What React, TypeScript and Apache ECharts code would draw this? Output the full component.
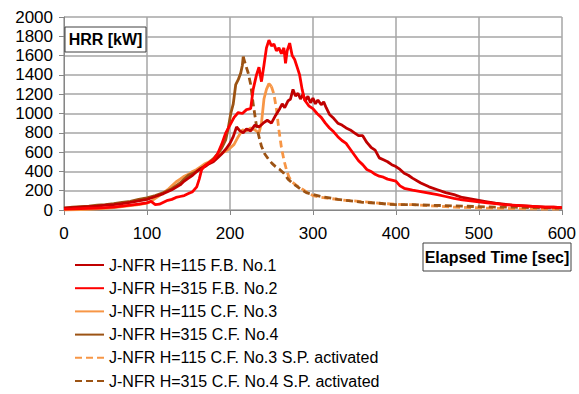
import React, { useEffect, useRef } from "react";
import * as echarts from "echarts";

const seriesNames = [
  "J-NFR H=115 F.B. No.1",
  "J-NFR H=315 F.B. No.2",
  "J-NFR H=115 C.F. No.3",
  "J-NFR H=315 C.F. No.4",
  "J-NFR H=115 C.F. No.3 S.P. activated",
  "J-NFR H=315 C.F. No.4 S.P. activated",
];

const fb1: number[][] = [
  [0, 20], [10, 25], [20, 30], [30, 35], [40, 40], [50, 50], [60, 55], [70, 65], [80, 80], [90, 95],
  [100, 110], [110, 140], [120, 170], [130, 210], [140, 260], [145, 300], [150, 330], [155, 360], [160, 400],
  [165, 430], [170, 450], [175, 480], [180, 500], [185, 540], [190, 580], [195, 630], [200, 690], [204, 760],
  [208, 860], [212, 820], [216, 800], [220, 840], [225, 820], [230, 880], [235, 860], [240, 900], [245, 930],
  [250, 900], [255, 980], [260, 1050], [263, 1100], [266, 1060], [270, 1130], [273, 1150], [276, 1250],
  [279, 1180], [282, 1210], [285, 1150], [288, 1200], [291, 1130], [294, 1180], [297, 1110], [300, 1160],
  [303, 1100], [306, 1140], [310, 1090], [313, 1120], [316, 1060], [320, 990], [325, 950], [330, 900],
  [335, 880], [340, 850], [345, 830], [350, 800], [355, 770], [360, 770], [365, 700], [370, 650], [375, 620],
  [380, 540], [385, 520], [390, 500], [395, 470], [400, 450], [405, 420], [410, 380], [415, 360], [420, 330],
  [430, 280], [440, 240], [450, 210], [460, 180], [470, 160], [480, 130], [490, 115], [500, 100], [510, 85],
  [520, 70], [530, 60], [540, 50], [550, 45], [560, 40], [570, 35], [580, 30], [590, 30], [600, 25],
];

const fb2: number[][] = [
  [0, 10], [10, 12], [20, 15], [30, 18], [40, 20], [50, 25], [60, 30], [70, 40], [80, 50], [90, 60],
  [100, 75], [105, 90], [110, 55], [115, 60], [120, 80], [125, 100], [130, 110], [135, 130], [140, 140],
  [145, 150], [150, 170], [155, 190], [160, 240], [163, 320], [166, 420], [170, 460], [175, 490], [180, 520],
  [185, 580], [190, 680], [195, 800], [200, 880], [205, 960], [210, 1010], [215, 1000], [220, 1040],
  [225, 1050], [228, 1250], [232, 1400], [235, 1480], [238, 1330], [241, 1500], [244, 1680], [247, 1760],
  [250, 1700], [253, 1720], [256, 1650], [259, 1680], [262, 1620], [265, 1680], [267, 1520], [269, 1650],
  [272, 1730], [275, 1600], [278, 1560], [281, 1480], [284, 1400], [287, 1250], [290, 1140], [295, 1080],
  [300, 1050], [305, 1000], [310, 960], [315, 900], [320, 850], [325, 810], [330, 760], [335, 720],
  [340, 690], [345, 630], [350, 570], [355, 510], [360, 470], [365, 420], [370, 400], [375, 370], [380, 350],
  [385, 340], [390, 320], [395, 310], [400, 300], [405, 250], [410, 225], [420, 205], [430, 190], [440, 175],
  [450, 160], [460, 140], [470, 120], [480, 105], [490, 95], [500, 85], [510, 75], [520, 65], [530, 55],
  [540, 50], [550, 45], [560, 40], [570, 35], [580, 30], [590, 30], [600, 25],
];

const cf3: number[][] = [
  [0, 0], [10, 2], [20, 5], [30, 8], [40, 12], [50, 18], [60, 25], [70, 35], [80, 45], [90, 55], [100, 70],
  [105, 90], [110, 120], [115, 150], [120, 180], [125, 210], [130, 250], [135, 290], [140, 320], [145, 350],
  [150, 370], [155, 400], [160, 420], [165, 450], [170, 480], [175, 500], [180, 530], [185, 560], [190, 590],
  [195, 610], [200, 640], [205, 680], [210, 760], [215, 830], [220, 820], [225, 850], [230, 830], [235, 800],
  [238, 900], [241, 1150], [244, 1250], [247, 1310], [250, 1280],
];

const cf4: number[][] = [
  [0, 20], [10, 30], [20, 35], [30, 40], [40, 50], [50, 55], [60, 65], [70, 80], [80, 90], [90, 110],
  [100, 125], [110, 150], [120, 180], [130, 220], [140, 280], [145, 320], [150, 360], [155, 380], [160, 400],
  [165, 430], [170, 460], [175, 490], [180, 530], [185, 580], [190, 640], [195, 730], [198, 850], [201, 1000],
  [204, 1100], [207, 1300], [210, 1350], [213, 1420], [215, 1500], [216, 1590],
];

const cf3sp: number[][] = [
  [250, 1280], [253, 1200], [256, 1050], [259, 830], [262, 650], [265, 520], [268, 420], [271, 345],
  [275, 290], [280, 255], [285, 230], [290, 200], [295, 170], [300, 150], [310, 130], [320, 120], [330, 110],
  [340, 100], [350, 95], [360, 85], [370, 80], [380, 70], [390, 65], [400, 60], [410, 55], [420, 55],
  [430, 50], [440, 45], [450, 40], [460, 35], [470, 30], [480, 28], [490, 25], [500, 22], [520, 18],
  [540, 15], [560, 12], [580, 10], [600, 8],
];

const cf4sp: number[][] = [
  [216, 1590], [219, 1500], [222, 1420], [225, 1300], [228, 1100], [232, 870], [235, 760], [238, 660],
  [242, 580], [247, 520], [251, 480], [255, 450], [260, 420], [265, 380], [270, 320], [275, 280], [280, 250],
  [286, 210], [292, 180], [300, 160], [310, 140], [320, 125], [330, 110], [340, 100], [350, 90], [360, 80],
  [370, 75], [380, 70], [390, 60], [400, 55], [420, 55], [440, 50], [460, 45], [480, 40], [500, 35],
  [520, 30], [540, 30], [560, 25], [580, 22], [600, 20],
];

const seriesData = [fb1, fb2, cf3, cf4, cf3sp, cf4sp];
const seriesColors = ["#C00000", "#FF0000", "#F79646", "#9C5314", "#F79646", "#9C5314"];
const seriesDashed = [false, false, false, false, true, true];

const xTicks = { min: 0, max: 600, interval: 100 };
const yTicks = { min: 0, max: 2000, interval: 200 };

const FONT = "'Liberation Sans', Arial, sans-serif";

export default function App() {
  const ref = useRef<HTMLDivElement>(null);
  useEffect(() => {
    if (!ref.current) return;
    const chart = echarts.init(ref.current, null, { renderer: "svg" });
    const gridColor = "#A6A6A6";
    chart.setOption({
      animation: false,
      backgroundColor: "#ffffff",
      textStyle: { fontFamily: FONT },
      grid: { left: 64, right: 14, top: 17, bottom: 184, containLabel: false },
      xAxis: {
        type: "value",
        min: xTicks.min,
        max: xTicks.max,
        interval: xTicks.interval,
        axisLine: { show: true, lineStyle: { color: "#868686", width: 1 } },
        axisTick: { show: true, length: 5, inside: false, lineStyle: { color: "#868686" } },
        axisLabel: { color: "#000", fontSize: 17, margin: 15, fontFamily: FONT, formatter: (v: number) => String(v) },
        splitLine: { show: true, lineStyle: { color: gridColor, width: 1.5 } },
      },
      yAxis: {
        type: "value",
        min: yTicks.min,
        max: yTicks.max,
        interval: yTicks.interval,
        axisLine: { show: true, lineStyle: { color: "#868686", width: 1 } },
        axisTick: { show: true, length: 5, inside: false, lineStyle: { color: "#868686" } },
        axisLabel: { color: "#000", fontSize: 17, margin: 11, fontFamily: FONT, formatter: (v: number) => String(v) },
        splitLine: { show: true, lineStyle: { color: gridColor, width: 1.5 } },
      },
      legend: {
        orient: "vertical",
        left: 69,
        top: 252,
        height: 200,
        padding: 5,
        itemWidth: 29,
        itemHeight: 16,
        itemGap: 7.2,
        itemStyle: { opacity: 0 },
        textStyle: { fontSize: 16, color: "#000", fontFamily: FONT, lineHeight: 16 },
        data: seriesNames,
      },
      graphic: [
        {
          type: "rect",
          shape: { x: 65, y: 27, width: 81, height: 25 },
          style: { fill: "#fff", stroke: "#404040", lineWidth: 1 },
          z: 100,
        },
        {
          type: "text",
          x: 105.5,
          y: 39.5,
          style: {
            text: "HRR [kW]",
            fill: "#000",
            font: `bold 16px ${FONT}`,
            align: "center",
            verticalAlign: "middle",
          },
          z: 101,
        },
        {
          type: "rect",
          shape: { x: 423, y: 243, width: 148, height: 28 },
          style: { fill: "#fff", stroke: "#404040", lineWidth: 1 },
          z: 100,
        },
        {
          type: "text",
          x: 497,
          y: 257,
          style: {
            text: "Elapsed Time [sec]",
            fill: "#000",
            font: `bold 16px ${FONT}`,
            align: "center",
            verticalAlign: "middle",
          },
          z: 101,
        },
      ],
      series: seriesNames.map((name, i) => ({
        name,
        type: "line",
        data: seriesData[i],
        symbol: "none",
        showSymbol: false,
        smooth: false,
        color: seriesColors[i],
        lineStyle: {
          color: seriesColors[i],
          width: 2.8,
          type: seriesDashed[i] ? [7, 4] : "solid",
        },
        z: i === 0 || i === 1 ? 3 : 2,
      })),
    });
    return () => chart.dispose();
  }, []);
  return (
    <div
      ref={ref}
      style={{ position: "absolute", left: 0, top: 0, width: 579, height: 394 }}
    />
  );
}
